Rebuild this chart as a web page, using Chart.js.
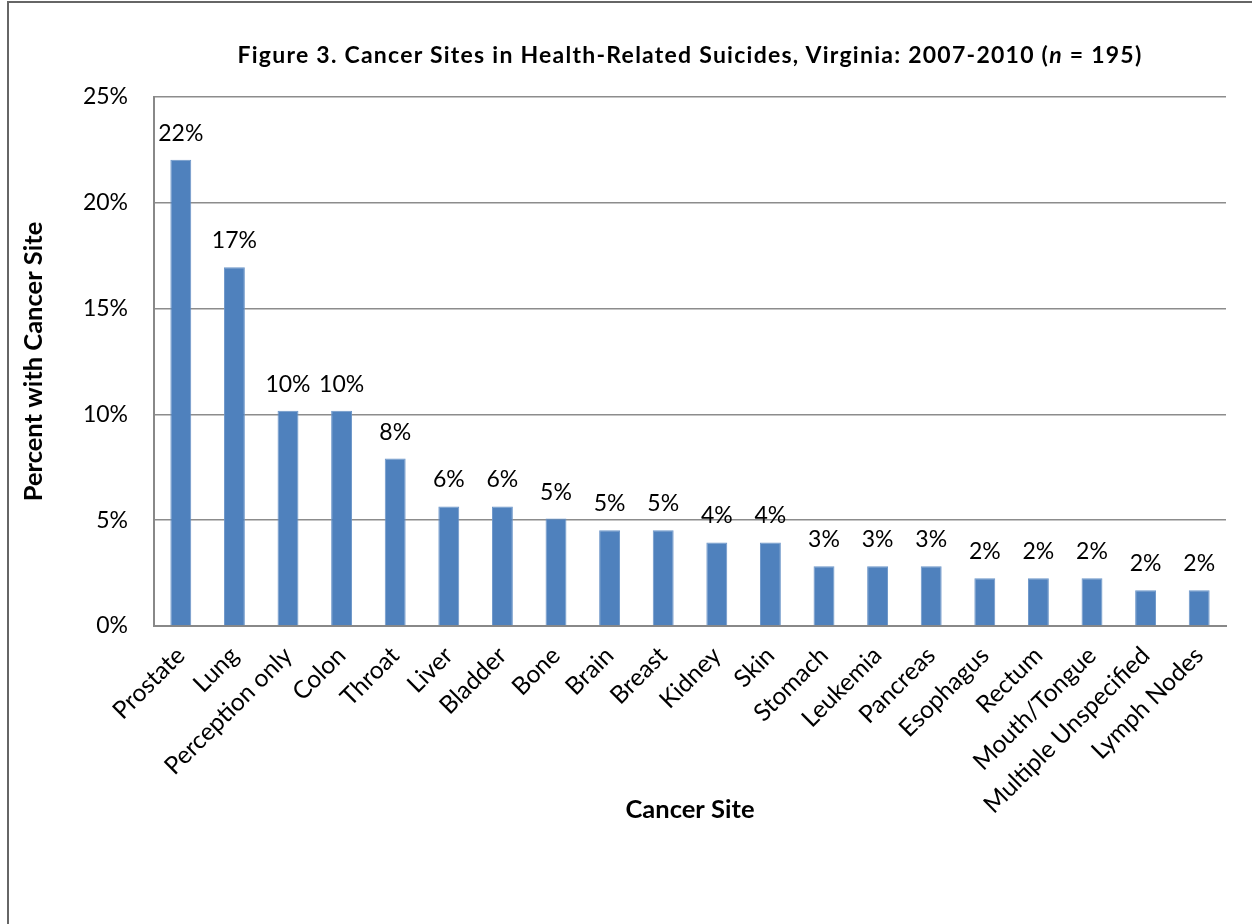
<!DOCTYPE html>
<html>
<head>
    <title>Cancer Sites in Health-Related Suicides</title>
    <script src="https://cdn.jsdelivr.net/npm/chart.js"></script>
    <style>
        body {
            margin: 0;
            background: #fff;
        }
        #wrap {
            position: relative;
            width: 1252px;
            height: 924px;
            overflow: hidden;
        }
        #frame {
            position: absolute;
            left: 7px;
            top: 1px;
            width: 1300px;
            height: 1000px;
            border-left: 2px solid #666;
            border-top: 2px solid #666;
        }
        #title {
            position: absolute;
            left: 154px;
            width: 1072px;
            top: 40px;
            text-align: center;
            font: bold 23px Lato, sans-serif;
            letter-spacing: 1.25px;
            line-height: 28px;
            color: #000;
        }
        #chart-container {
            position: absolute;
            left: 0;
            top: 0;
            width: 1252px;
            height: 924px;
        }
    </style>
</head>
<body>
<div id="wrap">
    <div id="frame"></div>
    <div id="chart-container">
        <canvas id="sitesChart" width="1252" height="924"></canvas>
    </div>
    <div id="title">Figure 3. Cancer Sites in Health-Related Suicides, Virginia: 2007-2010 (<i>n</i> = 195)</div>
</div>
<script>
    // Cancer sites and percent of cases with each site
    const sites = ['Prostate', 'Lung', 'Perception only', 'Colon', 'Throat', 'Liver', 'Bladder', 'Bone',
        'Brain', 'Breast', 'Kidney', 'Skin', 'Stomach', 'Leukemia', 'Pancreas', 'Esophagus', 'Rectum',
        'Mouth/Tongue', 'Multiple Unspecified', 'Lymph Nodes'];
    const percents = [22.03, 16.95, 10.17, 10.17, 7.91, 5.65, 5.65, 5.08, 4.52, 4.52, 3.95, 3.95,
        2.82, 2.82, 2.82, 2.26, 2.26, 2.26, 1.69, 1.69];
    const yTicks = [0, 5, 10, 15, 20, 25];

    const baseFont = 'Lato, sans-serif';

    // Draws the rounded percent above each bar
    const valueLabels = {
        id: 'valueLabels',
        afterDatasetsDraw(chart) {
            const ctx = chart.ctx;
            const meta = chart.getDatasetMeta(0);
            ctx.save();
            ctx.font = '23px ' + baseFont;
            ctx.fillStyle = '#000';
            ctx.textAlign = 'center';
            ctx.textBaseline = 'alphabetic';
            meta.data.forEach((bar, i) => {
                ctx.fillText(Math.round(percents[i]) + '%', bar.x, bar.y - 19);
            });
            ctx.restore();
        }
    };

    const ctx = document.getElementById('sitesChart').getContext('2d');
    const chart = new Chart(ctx, {
        type: 'bar',
        data: {
            labels: sites,
            datasets: [{
                data: percents,
                backgroundColor: '#4f81bd',
                borderColor: '#6b95c8',
                borderWidth: 1,
                barPercentage: 0.78,
                categoryPercentage: 0.5
            }]
        },
        options: {
            responsive: false,
            animation: false,
            devicePixelRatio: 1,
            layout: {
                padding: { top: 97, left: 0, right: 26, bottom: 0 }
            },
            plugins: {
                legend: { display: false },
                tooltip: { enabled: false }
            },
            scales: {
                x: {
                    afterFit(scale) { scale.height = 298; },
                    grid: { display: false },
                    border: { display: true, color: '#888', width: 2 },
                    ticks: {
                        color: '#000',
                        font: { family: baseFont, size: 24.5 },
                        maxRotation: 45,
                        minRotation: 45,
                        padding: 7,
                        autoSkip: false
                    },
                    title: {
                        display: true,
                        text: 'Cancer Site',
                        color: '#000',
                        font: { family: baseFont, size: 25.5, weight: 'bold' },
                        padding: { top: 0, bottom: 99 }
                    }
                },
                y: {
                    min: 0,
                    max: 25,
                    afterFit(scale) { scale.width = 154; },
                    afterBuildTicks(scale) {
                        scale.ticks = yTicks.map(v => ({ value: v }));
                    },
                    grid: { color: '#8c8c8c', lineWidth: 1.5, drawTicks: false },
                    border: { display: true, color: '#888', width: 2 },
                    ticks: {
                        color: '#000',
                        font: { family: baseFont, size: 23 },
                        padding: 26,
                        callback: v => v + '%'
                    },
                    title: {
                        display: true,
                        text: 'Percent with Cancer Site',
                        color: '#000',
                        font: { family: baseFont, size: 25.5, weight: 'bold' },
                        padding: { top: 18, bottom: 0 }
                    }
                }
            }
        },
        plugins: [valueLabels]
    });
</script>
</body>
</html>
